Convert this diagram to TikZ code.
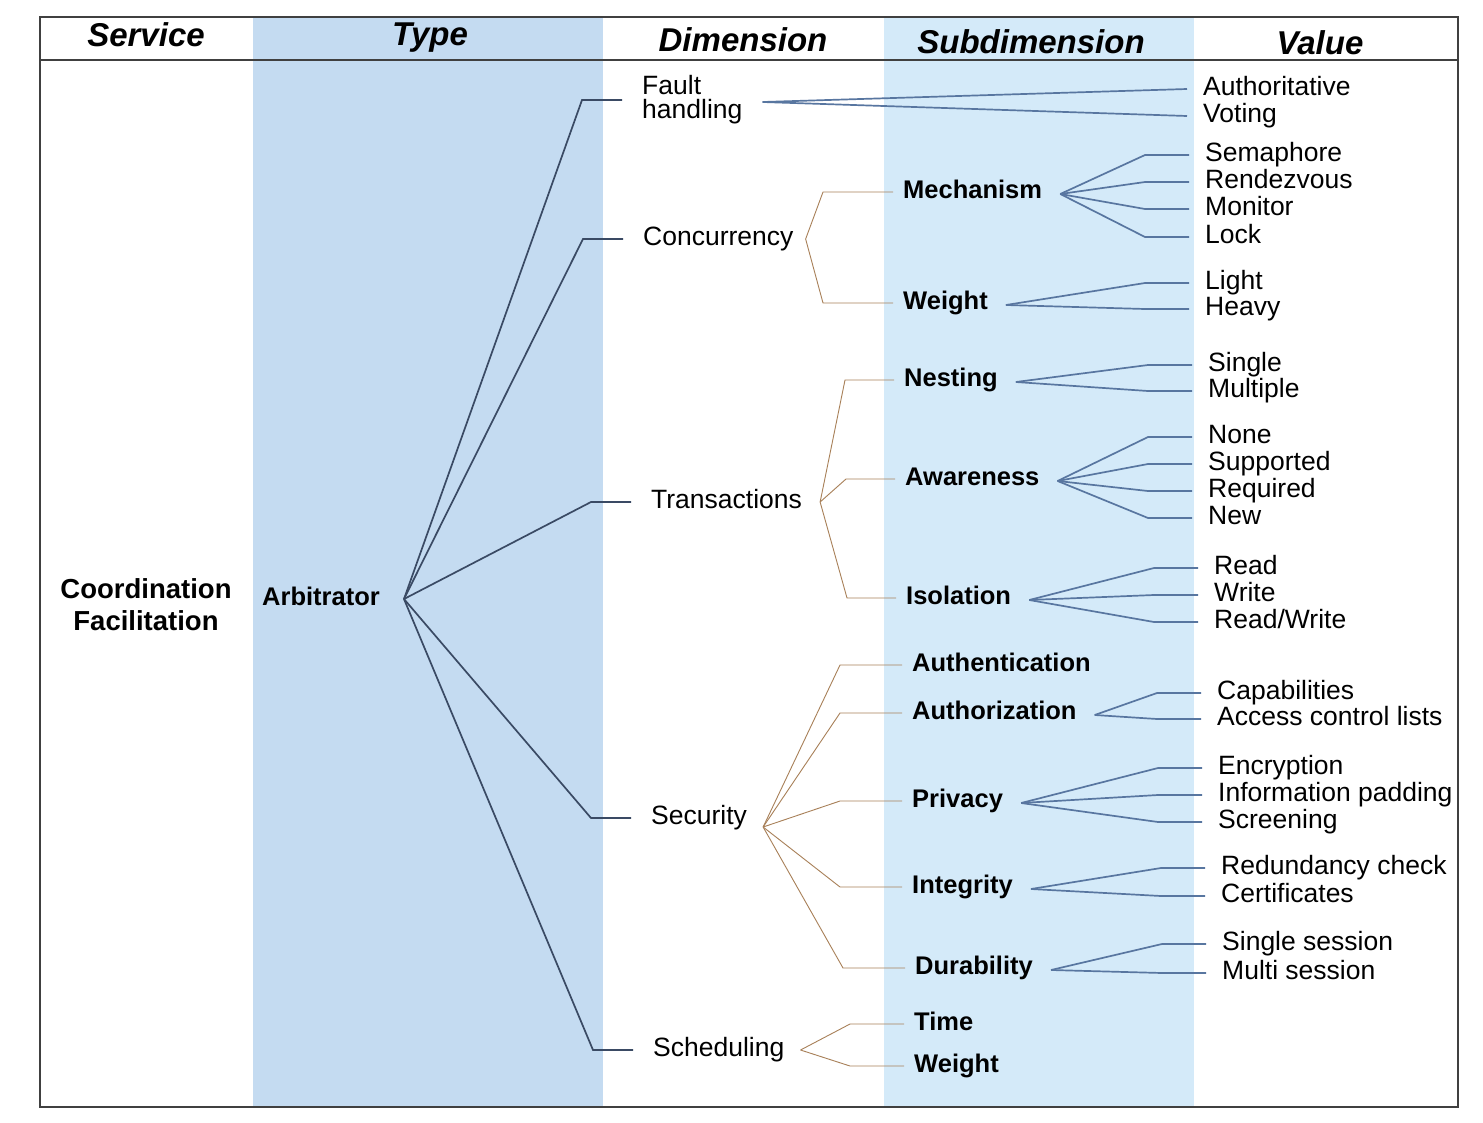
\documentclass[tikz,border=0pt]{standalone}
\usepackage{fontspec}
\setmainfont{Liberation Sans}
\definecolor{typeband}{RGB}{196,219,241}
\definecolor{subband}{RGB}{212,234,249}
\definecolor{armc}{RGB}{58,74,100}
\definecolor{tiec}{RGB}{168,128,88}
\definecolor{fanc}{RGB}{88,118,160}
\definecolor{framec}{RGB}{64,64,64}
\begin{document}
\begin{tikzpicture}[x=1pt,y=-1pt,
  txt/.style={inner sep=0pt, text height=18pt, text depth=5pt, font=\fontsize{26.5}{28}\selectfont},
  val/.style={txt, anchor=west},
  dimn/.style={txt, anchor=west},
  subn/.style={txt, anchor=west, font=\fontsize{25.5}{27}\selectfont\bfseries},
  hdr/.style={inner sep=0pt, font=\fontsize{33}{35}\selectfont\bfseries\itshape},
  arm/.style={draw=armc, line width=1.7pt},
  tie/.style={draw=tiec, line width=0.9pt},
  fan/.style={draw=fanc, line width=1.7pt},
]
\useasboundingbox (0,0) rectangle (1483,1122);
\fill[white] (0,0) rectangle (1483,1122);

% column bands
\fill[typeband] (253,17) rectangle (603,1107);
\fill[subband] (884,17) rectangle (1194,1107);

% frame and header rule
\draw[framec, line width=1.8pt] (40,17) rectangle (1458,1107);
\draw[framec, line width=1.8pt] (40,60) -- (1458,60);

% headers
\node[hdr] (hserv) at (146,35) {Service};
\node[hdr] (htype) at (430,38) {Type};
\node[hdr] (hdim)  at (743,40) {Dimension};
\node[hdr] (hsub)  at (1031,42) {Subdimension};
\node[hdr] (hval)  at (1320,43) {Value};

% service and type
\node[inner sep=0pt, align=center, font=\fontsize{27.5}{32}\selectfont\bfseries] (serv) at (146,605) {Coordination\\Facilitation};
\node[subn] (arb) at (262,599) {Arbitrator};

% dimensions
\node[inner sep=0pt, anchor=west, align=left, font=\fontsize{26.5}{24}\selectfont] (fault) at (642,100) {Fault\\handling};
\node[dimn] (conc)  at (643,239) {Concurrency};
\node[dimn] (trans) at (651,502) {Transactions};
\node[dimn] (secu)  at (651,818) {Security};
\node[dimn] (sched) at (653,1050) {Scheduling};

% subdimensions
\node[subn] (mech)  at (903,192) {Mechanism};
\node[subn] (wgt)   at (903,303) {Weight};
\node[subn] (nest)  at (904,380) {Nesting};
\node[subn] (awar)  at (905,479) {Awareness};
\node[subn] (isol)  at (906,598) {Isolation};
\node[subn] (authn) at (912,665) {Authentication};
\node[subn] (authz) at (912,713) {Authorization};
\node[subn] (priv)  at (912,801) {Privacy};
\node[subn] (integ) at (912,887) {Integrity};
\node[subn] (dura)  at (915,968) {Durability};
\node[subn] (time)  at (914,1024) {Time};
\node[subn] (swgt)  at (914,1066) {Weight};

% values
\node[val] (auth)  at (1203,89)  {Authoritative};
\node[val] (voti)  at (1203,116) {Voting};
\node[val] (sema)  at (1205,155) {Semaphore};
\node[val] (rend)  at (1205,182) {Rendezvous};
\node[val] (moni)  at (1205,209) {Monitor};
\node[val] (lock)  at (1205,237) {Lock};
\node[val] (ligh)  at (1205,283) {Light};
\node[val] (heav)  at (1205,309) {Heavy};
\node[val] (sing)  at (1208,365) {Single};
\node[val] (mult)  at (1208,391) {Multiple};
\node[val] (none)  at (1208,437) {None};
\node[val] (supp)  at (1208,464) {Supported};
\node[val] (requ)  at (1208,491) {Required};
\node[val] (new)   at (1208,518) {New};
\node[val] (read)  at (1214,568) {Read};
\node[val] (writ)  at (1214,595) {Write};
\node[val] (rdwr)  at (1214,622) {Read/Write};
\node[val] (capa)  at (1217,693) {Capabilities};
\node[val] (acl)   at (1217,719) {Access control lists};
\node[val] (encr)  at (1218,768) {Encryption};
\node[val] (info)  at (1218,795) {Information padding};
\node[val] (scre)  at (1218,822) {Screening};
\node[val] (redu)  at (1221,868) {Redundancy check};
\node[val] (cert)  at (1221,896) {Certificates};
\node[val] (sses)  at (1222,944) {Single session};
\node[val] (msess) at (1222,973) {Multi session};

% fork points
\coordinate (arbf)   at ([xshift=24pt]arb.east);
\coordinate (faultf) at ([xshift=20pt,yshift=-2pt]fault.east);
\coordinate (concf)  at ([xshift=12pt]conc.east);
\coordinate (transf) at ([xshift=18pt]trans.east);
\coordinate (secuf)  at ([xshift=16pt,yshift=-9pt]secu.east);
\coordinate (schedf) at ([xshift=16pt]sched.east);
\foreach \s in {mech,wgt,nest,awar,isol,authz,priv,integ,dura}
  \coordinate (\s f) at ([xshift=18pt,yshift=-2pt]\s.east);

% type to dimensions
\foreach \d in {fault,conc,trans,secu,sched}
  \draw[arm] (arbf) -- ([xshift=-60pt]\d.west) -- ([xshift=-20pt]\d.west);

% dimensions to subdimensions
\foreach \s in {mech,wgt}
  \draw[tie] (concf) -- ([xshift=-80pt]\s.west) -- ([xshift=-10pt]\s.west);
\foreach \s in {nest,awar,isol}
  \draw[tie] (transf) -- ([xshift=-59pt]\s.west) -- ([xshift=-10pt]\s.west);
\foreach \s in {authn,authz,priv,integ,dura}
  \draw[tie] (secuf) -- ([xshift=-72pt]\s.west) -- ([xshift=-10pt]\s.west);
\foreach \s in {time,swgt}
  \draw[tie] (schedf) -- ([xshift=-64pt]\s.west) -- ([xshift=-10pt]\s.west);

% fault handling straight to its values
\foreach \v in {auth,voti}
  \draw[fan] (faultf) -- ([xshift=-16pt]\v.west);

% subdimensions to values
\foreach \f/\vals in {mech/{sema,rend,moni,lock}, wgt/{ligh,heav}, nest/{sing,mult},
                      awar/{none,supp,requ,new}, isol/{read,writ,rdwr}, authz/{capa,acl},
                      priv/{encr,info,scre}, integ/{redu,cert}, dura/{sses,msess}}
  \foreach \v in \vals
    \draw[fan] (\f f) -- ([xshift=-60pt]\v.west) -- ([xshift=-16pt]\v.west);
\end{tikzpicture}
\end{document}
